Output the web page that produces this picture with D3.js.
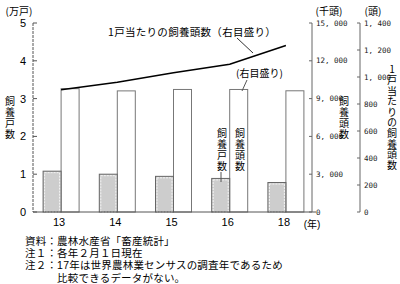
<!DOCTYPE html>
<html><head><meta charset="utf-8">
<script src="https://cdn.jsdelivr.net/npm/d3@7"></script>
<style>
html,body{margin:0;padding:0;background:#fff;}
svg{display:block;font-family:"Noto Sans CJK JP","Noto Sans",sans-serif;}
.vt{writing-mode:vertical-rl;text-orientation:upright;}
</style></head>
<body><svg id="c" width="400" height="284"></svg>
<script>
const years = ["13","14","15","16","18"];
const households = [1.08, 1.00, 0.943, 0.888, 0.78];     // 万戸
const heads = [9788, 9612, 9725, 9724, 9620];            // 千頭
const perHousehold = [906, 961, 1031, 1095, 1234];       // 頭
const leftTicks = [0,1,2,3,4,5];
const rightTicks1 = [0,3000,6000,9000,12000,15000];
const rightTicks2 = [0,200,400,600,800,1000,1200,1400];
const notes = ["資料：農林水産省「畜産統計」","注１：各年２月１日現在","注２：17年は世界農林業センサスの調査年であるため","　　　比較できるデータがない。"];

const svg = d3.select("#c");
const x = d3.scaleBand().domain(years).range([33,314]).padding(0);
const cx = d => x(d) + x.bandwidth()/2;
const yL = d3.scaleLinear().domain([0,5]).range([212,23]);
const yR1 = d3.scaleLinear().domain([0,15000]).range([212,23]);
const yR2 = d3.scaleLinear().domain([0,1400]).range([212,23]);
const bw = 18;
const fmt = d3.format(",");

// bars: white (heads)
svg.append("g").selectAll("rect").data(years).join("rect")
  .attr("x", d=>cx(d)).attr("y", (d,i)=>yR1(heads[i]))
  .attr("width", bw).attr("height", (d,i)=>212-yR1(heads[i]))
  .attr("fill","#fff").attr("stroke","#777").attr("stroke-width",1);
// bars: gray (households)
const gb = svg.append("g");
gb.selectAll("rect.o").data(years).join("rect").attr("class","o")
  .attr("x", d=>cx(d)-bw).attr("y", (d,i)=>yL(households[i]))
  .attr("width", bw).attr("height", (d,i)=>212-yL(households[i]))
  .attr("fill","#cdcdcd").attr("stroke","#666").attr("stroke-width",1);
gb.selectAll("rect.i").data(years).join("rect").attr("class","i")
  .attr("x", d=>cx(d)-bw+1.5).attr("y", (d,i)=>yL(households[i])+1.5)
  .attr("width", bw-3).attr("height", (d,i)=>212-yL(households[i])-1.5)
  .attr("fill","none").attr("stroke","#f4f4f4").attr("stroke-width",1).attr("stroke-dasharray","2,1");

// line
svg.append("path").datum(years)
  .attr("d", d3.line().x(d=>cx(d)).y((d,i)=>yR2(perHousehold[i])))
  .attr("fill","none").attr("stroke","#000").attr("stroke-width",1.6);

// baseline
svg.append("line").attr("x1",33).attr("x2",316).attr("y1",212).attr("y2",212).attr("stroke","#555");

// left axis
const la = svg.append("g");
la.append("line").attr("x1",33).attr("x2",33).attr("y1",yL(5)).attr("y2",212)
  .attr("stroke","#555").attr("stroke-dasharray","3,1");
la.selectAll("line.t").data(leftTicks).join("line").attr("class","t")
  .attr("x1",33).attr("x2",37).attr("y1",d=>yL(d)).attr("y2",d=>yL(d)).attr("stroke","#555");
la.selectAll("text").data(leftTicks).join("text")
  .attr("x",26).attr("y",d=>yL(d)+4).attr("text-anchor","end")
  .attr("font-size",11).attr("font-family","Liberation Sans, Arial").text(d=>d);

// right axes
function rightAxis(xp, sc, ticks){
  const g = svg.append("g");
  g.append("line").attr("x1",xp).attr("x2",xp).attr("y1",23).attr("y2",212).attr("stroke","#666");
  g.selectAll("line.t").data(ticks).join("line").attr("class","t")
    .attr("x1",xp-3).attr("x2",xp).attr("y1",d=>sc(d)).attr("y2",d=>sc(d)).attr("stroke","#666");
  g.selectAll("text").data(ticks).join("text")
    .attr("x",xp+4).attr("y",d=>sc(d)+2.5).attr("font-size",7.5).attr("fill","#222")
    .attr("font-family","DejaVu Sans Mono, monospace").text(d=>fmt(d).replace(",",", "));
}
rightAxis(312, yR1, rightTicks1);
rightAxis(360, yR2, rightTicks2);

// x labels
svg.append("g").selectAll("text").data(years).join("text")
  .attr("x",d=>cx(d)-2).attr("y",226).attr("text-anchor","middle")
  .attr("font-size",11).attr("font-family","Liberation Sans, Arial").text(d=>d);
svg.append("text").attr("x",312).attr("y",228).attr("text-anchor","middle").attr("font-size",10)
  .attr("font-family","Liberation Sans, Noto Sans CJK JP").text("(年)");

// units
svg.append("text").attr("x",19).attr("y",15).attr("text-anchor","middle").attr("font-size",10).text("(万戸)");
svg.append("text").attr("x",329).attr("y",15).attr("text-anchor","middle").attr("font-size",10).text("(千頭)");
svg.append("text").attr("x",373).attr("y",15).attr("text-anchor","middle").attr("font-size",10).text("(頭)");

// vertical text helper (single text element, vertical writing)
function vtext(str, xp, y0, step, fs){
  svg.append("text").attr("class","vt").attr("x",xp).attr("y",y0 - step/2)
    .attr("font-size",fs).attr("letter-spacing",(step-fs)+"px").text(str);
}
vtext("飼養戸数", 10, 102, 11, 10);
vtext("飼養頭数", 344, 102, 11, 10);
vtext("1戸当たりの飼養頭数", 392, 70, 10.6, 10);
vtext("飼養戸数", 222, 134, 10.8, 10);
vtext("飼養頭数", 240, 134, 10.8, 10);

// annotations
svg.append("text").attr("x",108).attr("y",36).attr("font-size",10.5).attr("letter-spacing","0.3px").text("1戸当たりの飼養頭数（右目盛り）");
svg.append("line").attr("x1",237).attr("y1",38).attr("x2",253).attr("y2",53).attr("stroke","#333");
svg.append("text").attr("x",236).attr("y",77).attr("font-size",10).text("(右目盛り)");
svg.append("line").attr("x1",247).attr("y1",80).attr("x2",242).attr("y2",91).attr("stroke","#555");
svg.append("line").attr("x1",221).attr("y1",172).attr("x2",221).attr("y2",182).attr("stroke","#555");

// notes
svg.append("g").selectAll("text").data(notes).join("text")
  .attr("x",25).attr("y",(d,i)=>245+i*12.2).attr("font-size",10.5).attr("letter-spacing","0.2px")
  .attr("font-family","Liberation Sans, Noto Sans CJK JP").text(d=>d);
</script></body></html>
